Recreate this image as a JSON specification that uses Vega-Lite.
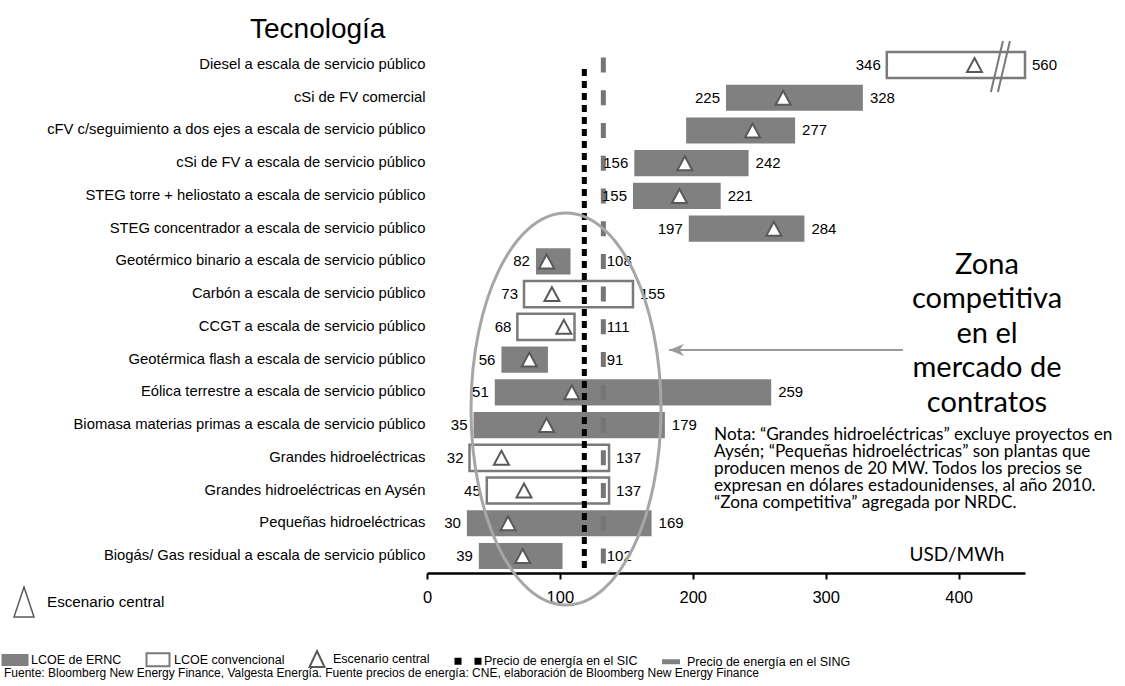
{
  "$schema": "https://vega.github.io/schema/vega-lite/v6.json",
  "width": 598,
  "height": 525,
  "autosize": {"type": "none"},
  "padding": {"left": 427, "top": 48, "right": 100, "bottom": 113},
  "background": "white",
  "title": {
    "text": "Tecnología",
    "anchor": "start",
    "frame": "group",
    "dx": -177,
    "dy": 40,
    "offset": 11,
    "baseline": "alphabetic",
    "font": "Liberation Sans",
    "fontSize": 28,
    "fontWeight": "normal",
    "color": "black"
  },
  "config": {
    "view": {"stroke": null},
    "font": "Liberation Sans"
  },
  "datasets": {
    "tecnologias": [
      {"tecnologia": "Diesel a escala de servicio público", "tipo": "convencional", "bajo": 346, "alto": 560, "central": 412},
      {"tecnologia": "cSi de FV comercial", "tipo": "ERNC", "bajo": 225, "alto": 328, "central": 268},
      {"tecnologia": "cFV c/seguimiento a dos ejes a escala de servicio público", "tipo": "ERNC", "bajo": 195, "alto": 277, "central": 245},
      {"tecnologia": "cSi de FV a escala de servicio público", "tipo": "ERNC", "bajo": 156, "alto": 242, "central": 194},
      {"tecnologia": "STEG torre + heliostato a escala de servicio público", "tipo": "ERNC", "bajo": 155, "alto": 221, "central": 190},
      {"tecnologia": "STEG concentrador a escala de servicio público", "tipo": "ERNC", "bajo": 197, "alto": 284, "central": 261},
      {"tecnologia": "Geotérmico binario a escala de servicio público", "tipo": "ERNC", "bajo": 82, "alto": 108, "central": 90},
      {"tecnologia": "Carbón a escala de servicio público", "tipo": "convencional", "bajo": 73, "alto": 155, "central": 94},
      {"tecnologia": "CCGT a escala de servicio público", "tipo": "convencional", "bajo": 68, "alto": 111, "central": 103},
      {"tecnologia": "Geotérmica flash a escala de servicio público", "tipo": "ERNC", "bajo": 56, "alto": 91, "central": 77},
      {"tecnologia": "Eólica terrestre a escala de servicio público", "tipo": "ERNC", "bajo": 51, "alto": 259, "central": 109},
      {"tecnologia": "Biomasa materias primas a escala de servicio público", "tipo": "ERNC", "bajo": 35, "alto": 179, "central": 90},
      {"tecnologia": "Grandes hidroeléctricas", "tipo": "convencional", "bajo": 32, "alto": 137, "central": 56},
      {"tecnologia": "Grandes hidroeléctricas en Aysén", "tipo": "convencional", "bajo": 45, "alto": 137, "central": 73},
      {"tecnologia": "Pequeñas hidroeléctricas", "tipo": "ERNC", "bajo": 30, "alto": 169, "central": 61},
      {"tecnologia": "Biogás/ Gas residual a escala de servicio público", "tipo": "ERNC", "bajo": 39, "alto": 102, "central": 72}
    ],
    "precios": [
      {"mercado": "SIC", "precio": 118.4, "desde": "Diesel a escala de servicio público", "hasta": "Biogás/ Gas residual a escala de servicio público"},
      {"mercado": "SING", "precio": 132.7}
    ],
    "zona": [
      {"tecnologia": "Eólica terrestre a escala de servicio público", "centro": 104.6}
    ],
    "flecha": [
      {"tecnologia": "Geotérmica flash a escala de servicio público", "desde": 358.2, "hasta": 182.1}
    ],
    "corte": [
      {"tecnologia": "Diesel a escala de servicio público", "posicion": 431.5}
    ],
    "notas": [
      {"tecnologia": "CCGT a escala de servicio público", "posicion": 421.4, "clase": "zona", "texto": "Zona\ncompetitiva\nen el\nmercado de\ncontratos"},
      {"tecnologia": "Grandes hidroeléctricas", "posicion": 216, "clase": "nota", "texto": "Nota: “Grandes hidroeléctricas” excluye proyectos en\nAysén; “Pequeñas hidroeléctricas” son plantas que\nproducen menos de 20 MW. Todos los precios se\nexpresan en dólares estadounidenses, al año 2010.\n“Zona competitiva” agregada por NRDC."},
      {"tecnologia": "Biogás/ Gas residual a escala de servicio público", "posicion": 398.8, "clase": "unidad", "texto": "USD/MWh"}
    ],
    "leyenda": [
      {"leyenda": "LCOE de ERNC"},
      {"leyenda": "LCOE convencional"},
      {"leyenda": "Escenario central"},
      {"leyenda": "Precio de energía en el SIC"},
      {"leyenda": "Precio de energía en el SING"}
    ],
    "escenario": [
      {"escenario": "Escenario central"}
    ]
  },
  "layer": [
    {
      "data": {"name": "tecnologias"},
      "mark": {"type": "bar", "strokeWidth": 2.5},
      "encoding": {
        "y": {
          "field": "tecnologia",
          "type": "nominal",
          "sort": null,
          "scale": {
            "domain": [
              "Diesel a escala de servicio público",
              "cSi de FV comercial",
              "cFV c/seguimiento a dos ejes a escala de servicio público",
              "cSi de FV a escala de servicio público",
              "STEG torre + heliostato a escala de servicio público",
              "STEG concentrador a escala de servicio público",
              "Geotérmico binario a escala de servicio público",
              "Carbón a escala de servicio público",
              "CCGT a escala de servicio público",
              "Geotérmica flash a escala de servicio público",
              "Eólica terrestre a escala de servicio público",
              "Biomasa materias primas a escala de servicio público",
              "Grandes hidroeléctricas",
              "Grandes hidroeléctricas en Aysén",
              "Pequeñas hidroeléctricas",
              "Biogás/ Gas residual a escala de servicio público"
            ],
            "paddingInner": 0.2,
            "paddingOuter": 0.12
          },
          "axis": {
            "title": null,
            "domain": false,
            "ticks": false,
            "labelPadding": 2,
            "labelFont": "Liberation Sans",
            "labelFontSize": 14.8,
            "labelColor": "black",
            "labelLimit": 600
          }
        },
        "x": {
          "field": "bajo",
          "type": "quantitative",
          "scale": {"domain": [0, 450], "clamp": true, "nice": false, "zero": true},
          "axis": {
            "title": null,
            "values": [0, 100, 200, 300, 400],
            "grid": false,
            "domainColor": "black",
            "domainWidth": 2.5,
            "tickColor": "black",
            "tickWidth": 2,
            "tickSize": 6,
            "labelPadding": 10,
            "labelFont": "Liberation Sans",
            "labelFontSize": 16.5,
            "labelColor": "black",
            "labelFlush": false,
            "labelOverlap": false
          }
        },
        "x2": {"field": "alto"},
        "fill": {
          "condition": {"test": "datum.tipo === 'ERNC'", "value": "#808080"},
          "value": "#ffffff"
        },
        "stroke": {
          "condition": {"test": "datum.tipo === 'ERNC'", "value": null},
          "value": "#7a7a7a"
        }
      }
    },
    {
      "data": {"name": "precios"},
      "transform": [{"filter": "datum.mercado === 'SING'"}],
      "mark": {"type": "rule", "color": "#757575", "strokeWidth": 5, "strokeDash": [15, 17.73], "strokeDashOffset": 23.23},
      "encoding": {"x": {"field": "precio", "type": "quantitative"}}
    },
    {
      "data": {"name": "precios"},
      "transform": [{"filter": "datum.mercado === 'SIC'"}],
      "mark": {"type": "rule", "color": "black", "strokeWidth": 5, "strokeDash": [7, 5], "yOffset": 4, "y2Offset": 17},
      "encoding": {
        "x": {"field": "precio", "type": "quantitative"},
        "y": {"field": "desde", "type": "nominal", "sort": null},
        "y2": {"field": "hasta"}
      }
    },
    {
      "data": {"name": "tecnologias"},
      "mark": {
        "type": "point",
        "shape": "M 0 -0.93 L 1 0.93 L -1 0.93 Z",
        "size": 225,
        "filled": true,
        "fill": "#ffffff",
        "stroke": "#595959",
        "strokeWidth": 2,
        "opacity": 1
      },
      "encoding": {
        "x": {"field": "central", "type": "quantitative"},
        "y": {"field": "tecnologia", "type": "nominal", "sort": null}
      }
    },
    {
      "data": {"name": "tecnologias"},
      "transform": [{"filter": "datum.tecnologia !== 'cFV c/seguimiento a dos ejes a escala de servicio público'"}],
      "mark": {"type": "text", "align": "right", "baseline": "middle", "dx": -6, "font": "Liberation Sans", "fontSize": 15, "color": "black"},
      "encoding": {
        "x": {"field": "bajo", "type": "quantitative"},
        "y": {"field": "tecnologia", "type": "nominal", "sort": null},
        "text": {"field": "bajo", "type": "quantitative"}
      }
    },
    {
      "data": {"name": "tecnologias"},
      "transform": [{"calculate": "max(datum.alto, 130)", "as": "ancla"}],
      "mark": {"type": "text", "align": "left", "baseline": "middle", "dx": 7, "font": "Liberation Sans", "fontSize": 15, "color": "black"},
      "encoding": {
        "x": {"field": "ancla", "type": "quantitative"},
        "y": {"field": "tecnologia", "type": "nominal", "sort": null},
        "text": {"field": "alto", "type": "quantitative"}
      }
    },
    {
      "data": {"name": "corte"},
      "mark": {
        "type": "point",
        "shape": "M -0.373 1 L 0.098 -1 M -0.098 1 L 0.373 -1",
        "size": 2601,
        "filled": false,
        "stroke": "#7a7a7a",
        "strokeWidth": 2,
        "opacity": 1,
        "yOffset": 1.5
      },
      "encoding": {
        "x": {"field": "posicion", "type": "quantitative"},
        "y": {"field": "tecnologia", "type": "nominal", "sort": null}
      }
    },
    {
      "data": {"name": "zona"},
      "mark": {
        "type": "point",
        "shape": "M 0.4847 0 C 0.4847 0.5523 0.2677 1 0 1 C -0.2677 1 -0.4847 0.5523 -0.4847 0 C -0.4847 -0.5523 -0.2677 -1 0 -1 C 0.2677 -1 0.4847 -0.5523 0.4847 0 Z",
        "size": 153664,
        "filled": false,
        "stroke": "#a6a6a6",
        "strokeWidth": 3,
        "opacity": 1,
        "yOffset": 16.7
      },
      "encoding": {
        "x": {"field": "centro", "type": "quantitative"},
        "y": {"field": "tecnologia", "type": "nominal", "sort": null}
      }
    },
    {
      "data": {"name": "flecha"},
      "mark": {"type": "rule", "color": "#9a9a9a", "strokeWidth": 1.8, "yOffset": -9.6},
      "encoding": {
        "x": {"field": "desde", "type": "quantitative"},
        "x2": {"field": "hasta"},
        "y": {"field": "tecnologia", "type": "nominal", "sort": null}
      }
    },
    {
      "data": {"name": "flecha"},
      "mark": {
        "type": "point",
        "shape": "M 0 0 L 1 -0.4 L 0.7 0 L 1 0.4 Z",
        "size": 900,
        "filled": true,
        "color": "#9a9a9a",
        "opacity": 1,
        "yOffset": -9.6
      },
      "encoding": {
        "x": {"field": "hasta", "type": "quantitative"},
        "y": {"field": "tecnologia", "type": "nominal", "sort": null}
      }
    },
    {
      "data": {"name": "notas"},
      "transform": [{"filter": "datum.clase === 'zona'"}],
      "mark": {"type": "text", "align": "center", "baseline": "middle", "lineBreak": "\n", "lineHeight": 34.5, "font": "Lato", "fontSize": 29, "color": "black", "yOffset": -62},
      "encoding": {
        "x": {"field": "posicion", "type": "quantitative"},
        "y": {"field": "tecnologia", "type": "nominal", "sort": null},
        "text": {"field": "texto"}
      }
    },
    {
      "data": {"name": "notas"},
      "transform": [{"filter": "datum.clase === 'nota'"}],
      "mark": {"type": "text", "align": "left", "baseline": "middle", "lineBreak": "\n", "lineHeight": 17, "font": "Lato", "fontSize": 17.2, "color": "black", "yOffset": -23},
      "encoding": {
        "x": {"field": "posicion", "type": "quantitative"},
        "y": {"field": "tecnologia", "type": "nominal", "sort": null},
        "text": {"field": "texto"}
      }
    },
    {
      "data": {"name": "notas"},
      "transform": [{"filter": "datum.clase === 'unidad'"}],
      "mark": {"type": "text", "align": "center", "baseline": "middle", "font": "Lato", "fontSize": 19, "color": "black", "yOffset": -1},
      "encoding": {
        "x": {"field": "posicion", "type": "quantitative"},
        "y": {"field": "tecnologia", "type": "nominal", "sort": null},
        "text": {"field": "texto"}
      }
    },
    {
      "data": {"name": "leyenda"},
      "mark": {"type": "point", "filled": true, "opacity": 0, "strokeWidth": 2},
      "encoding": {
        "fill": {
          "field": "leyenda",
          "type": "nominal",
          "sort": null,
          "scale": {
            "domain": ["LCOE de ERNC", "LCOE convencional", "Escenario central", "Precio de energía en el SIC", "Precio de energía en el SING"],
            "range": ["#808080", "#ffffff", "#ffffff", "#000000", "#808080"]
          },
          "legend": {
            "title": "Fuente: Bloomberg New Energy Finance, Valgesta Energía. Fuente precios de energía: CNE, elaboración de Bloomberg New Energy Finance",
            "orient": "none",
            "legendX": -423,
            "legendY": 600,
            "direction": "horizontal",
            "titleOrient": "bottom",
            "titleAnchor": "start",
            "titleFont": "Liberation Sans",
            "titleFontSize": 12,
            "titleFontWeight": "normal",
            "titleColor": "black",
            "titleLimit": 1100,
            "titlePadding": -3,
            "labelFont": "Liberation Sans",
            "labelFontSize": 12.5,
            "labelColor": "black",
            "labelOffset": 5,
            "labelLimit": 400,
            "symbolSize": 400,
            "symbolStrokeWidth": 2,
            "symbolOpacity": 1,
            "columnPadding": 20,
            "padding": 0
          }
        },
        "stroke": {
          "field": "leyenda",
          "type": "nominal",
          "sort": null,
          "scale": {
            "domain": ["LCOE de ERNC", "LCOE convencional", "Escenario central", "Precio de energía en el SIC", "Precio de energía en el SING"],
            "range": ["transparent", "#7a7a7a", "#595959", "transparent", "transparent"]
          },
          "legend": {
            "title": "Fuente: Bloomberg New Energy Finance, Valgesta Energía. Fuente precios de energía: CNE, elaboración de Bloomberg New Energy Finance",
            "orient": "none",
            "legendX": -423,
            "legendY": 600,
            "direction": "horizontal",
            "titleOrient": "bottom",
            "titleAnchor": "start",
            "titleFont": "Liberation Sans",
            "titleFontSize": 12,
            "titleFontWeight": "normal",
            "titleColor": "black",
            "titleLimit": 1100,
            "titlePadding": -3,
            "labelFont": "Liberation Sans",
            "labelFontSize": 12.5,
            "labelColor": "black",
            "labelOffset": 5,
            "labelLimit": 400,
            "symbolSize": 400,
            "symbolStrokeWidth": 2,
            "symbolOpacity": 1,
            "columnPadding": 20,
            "padding": 0
          }
        },
        "shape": {
          "field": "leyenda",
          "type": "nominal",
          "sort": null,
          "scale": {
            "domain": ["LCOE de ERNC", "LCOE convencional", "Escenario central", "Precio de energía en el SIC", "Precio de energía en el SING"],
            "range": [
              "M -1.35 -0.6 H 1.35 V 0.6 H -1.35 Z",
              "M -1.15 -0.65 H 1.15 V 0.65 H -1.15 Z",
              "M 0 -0.8 L 0.75 0.8 L -0.75 0.8 Z",
              "M -1.35 -0.35 H -0.65 V 0.35 H -1.35 Z M 0.65 -0.35 H 1.35 V 0.35 H 0.65 Z",
              "M -0.9 -0.25 H 0.9 V 0.25 H -0.9 Z"
            ]
          },
          "legend": {
            "title": "Fuente: Bloomberg New Energy Finance, Valgesta Energía. Fuente precios de energía: CNE, elaboración de Bloomberg New Energy Finance",
            "orient": "none",
            "legendX": -423,
            "legendY": 600,
            "direction": "horizontal",
            "titleOrient": "bottom",
            "titleAnchor": "start",
            "titleFont": "Liberation Sans",
            "titleFontSize": 12,
            "titleFontWeight": "normal",
            "titleColor": "black",
            "titleLimit": 1100,
            "titlePadding": -3,
            "labelFont": "Liberation Sans",
            "labelFontSize": 12.5,
            "labelColor": "black",
            "labelOffset": 5,
            "labelLimit": 400,
            "symbolSize": 400,
            "symbolStrokeWidth": 2,
            "symbolOpacity": 1,
            "columnPadding": 20,
            "padding": 0
          }
        }
      }
    },
    {
      "data": {"name": "escenario"},
      "mark": {"type": "point", "filled": false, "stroke": "#595959", "strokeWidth": 1.5, "opacity": 0},
      "encoding": {
        "shape": {
          "field": "escenario",
          "type": "nominal",
          "scale": {"domain": ["Escenario central"], "range": ["M 0 -1 L 0.667 1 L -0.667 1 Z"]},
          "legend": {
            "title": null,
            "orient": "none",
            "legendX": -419,
            "legendY": 538,
            "symbolSize": 900,
            "symbolOpacity": 1,
            "symbolStrokeWidth": 1.5,
            "symbolStrokeColor": "#595959",
            "symbolFillColor": "transparent",
            "labelFont": "Liberation Sans",
            "labelFontSize": 15.2,
            "labelColor": "black",
            "labelOffset": 7,
            "padding": 0
          }
        }
      }
    }
  ],
  "resolve": {
    "scale": {"shape": "independent", "fill": "independent", "stroke": "independent"},
    "legend": {"shape": "independent", "fill": "independent", "stroke": "independent"}
  }
}
